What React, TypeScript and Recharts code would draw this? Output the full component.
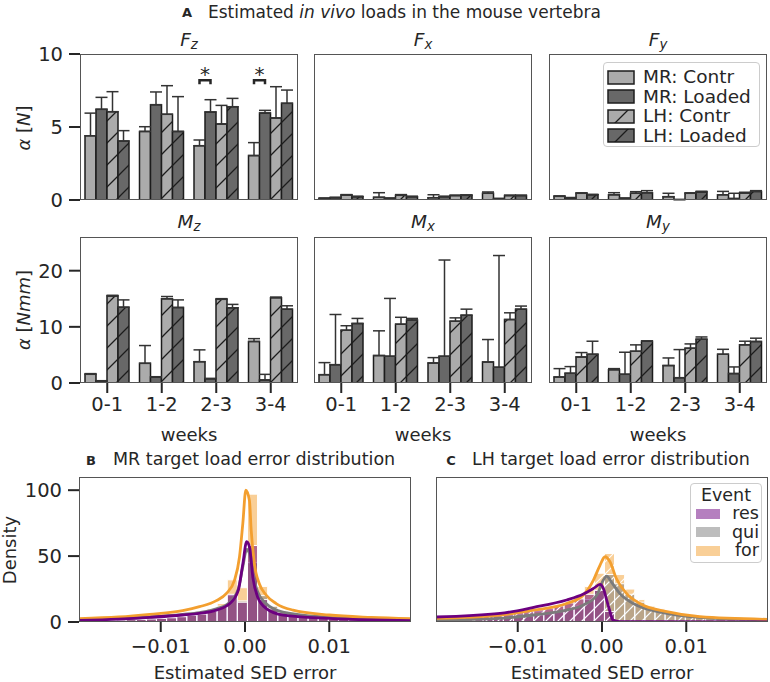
import React from 'react';
import {
  BarChart,
  Bar,
  XAxis,
  YAxis,
  ErrorBar,
  LabelList,
  ComposedChart,
  LineChart,
  Line,
} from 'recharts';

const FONT = '"DejaVu Sans", Verdana, sans-serif';
const INK = '#262626';
const LIGHT = '#ababab';
const DARK = '#686868';
const EDGE = '#1c1c1c';
const C_RES = '#6c0080';
const C_QUI = '#7b7b7b';
const C_FOR = '#f39f2f';

// ---- panel A data: rows = MR Contr, MR Loaded, LH Contr, LH Loaded; cols = weeks
const WEEKS = ['0-1', '1-2', '2-3', '3-4'];

const FZ_MEAN = [
  [4.4, 4.7, 3.72, 3.04],
  [6.21, 6.53, 6.03, 5.96],
  [6.05, 5.87, 5.21, 5.62],
  [4.04, 4.7, 6.39, 6.62],
];
const FZ_ERR = [
  [1.55, 0.32, 0.39, 0.89],
  [0.82, 0.87, 0.84, 0.18],
  [1.37, 1.96, 1.27, 2.14],
  [0.71, 2.38, 0.57, 0.91],
];
const FZ_SIG = [null, null, 8.2, 8.2];

const FX_MEAN = [
  [0.11, 0.18, 0.16, 0.46],
  [0.16, 0.11, 0.23, 0.09],
  [0.34, 0.32, 0.3, 0.3],
  [0.23, 0.23, 0.32, 0.3],
];
const FX_ERR = [
  [0.03, 0.32, 0.2, 0.09],
  [0.03, 0.03, 0.03, 0.02],
  [0.03, 0.05, 0.03, 0.03],
  [0.03, 0.03, 0.03, 0.03],
];

const FY_MEAN = [
  [0.25, 0.36, 0.23, 0.36],
  [0.14, 0.11, 0.02, 0.1],
  [0.46, 0.46, 0.46, 0.48],
  [0.36, 0.5, 0.55, 0.59],
];
const FY_ERR = [
  [0.03, 0.14, 0.23, 0.23],
  [0.03, 0.03, 0.02, 0.36],
  [0.03, 0.11, 0.03, 0.05],
  [0.03, 0.14, 0.05, 0.05],
];

const MZ_MEAN = [
  [1.55, 3.5, 3.8, 7.4],
  [0.36, 1.07, 0.77, 0.54],
  [15.5, 15.0, 14.9, 15.2],
  [13.5, 13.45, 13.4, 13.15],
];
const MZ_ERR = [
  [0.12, 3.17, 2.1, 0.5],
  [0.05, 0.05, 0.05, 1.0],
  [0.12, 0.4, 0.12, 0.1],
  [1.3, 1.35, 0.6, 0.6],
];

const MX_MEAN = [
  [1.49, 4.88, 3.57, 3.75],
  [3.27, 4.76, 4.76, 2.8],
  [9.4, 10.48, 11.0, 11.3],
  [10.6, 11.2, 12.08, 13.15],
];
const MX_ERR = [
  [2.14, 4.41, 0.95, 3.99],
  [8.93, 10.3, 17.14, 19.9],
  [0.8, 1.22, 0.6, 1.2],
  [0.9, 0.3, 1.07, 0.55],
];

const MY_MEAN = [
  [1.07, 2.38, 3.1, 5.12],
  [1.73, 1.55, 0.95, 1.67],
  [4.64, 5.65, 6.19, 6.79],
  [5.12, 7.44, 7.8, 7.38],
];
const MY_ERR = [
  [1.49, 0.18, 1.36, 0.88],
  [1.19, 3.93, 5.0, 1.19],
  [0.78, 1.14, 0.77, 0.65],
  [2.32, 0.06, 0.4, 0.6],
];

const SERIES = [
  { key: 's0', name: 'MR: Contr', fill: LIGHT },
  { key: 's1', name: 'MR: Loaded', fill: DARK },
  { key: 's2', name: 'LH: Contr', fill: 'url(#hatchLight)' },
  { key: 's3', name: 'LH: Loaded', fill: 'url(#hatchDark)' },
];

// ---- panels B/C: histogram bin centres and densities
const BIN_X = [
  -0.0195, -0.0183, -0.0171, -0.0159, -0.0147, -0.0135, -0.0123, -0.0111, -0.0099, -0.0087, -0.0075,
  -0.0063, -0.0051, -0.0039, -0.0027, -0.0015, -0.0003, 0.0009, 0.0021, 0.0033, 0.0045, 0.0057,
  0.0069, 0.0081, 0.0093, 0.0105, 0.0117, 0.0129, 0.0141, 0.0153, 0.0165, 0.0177, 0.0189,
];
const MR_RES = [
  1, 1, 1.2, 1.3, 1.5, 1.8, 2, 2.3, 2.7, 3.2, 4, 5, 6, 8, 11.5, 21, 15, 58, 17, 10, 7, 5.5, 4.5, 3.5,
  3, 2.5, 2, 1.8, 1.5, 1.3, 1.2, 1, 1,
];
const MR_QUI = [
  1, 1.1, 1.2, 1.4, 1.6, 1.9, 2.2, 2.5, 3, 3.5, 4.3, 5.3, 6.5, 8.5, 12, 20, 16, 45, 20, 12, 8, 6, 5, 4,
  3.3, 2.7, 2.2, 1.9, 1.6, 1.4, 1.2, 1.1, 1,
];
const MR_FOR = [
  1.5, 1.6, 1.8, 2, 2.2, 2.5, 2.8, 3.2, 3.7, 4.3, 5, 6, 7.5, 10, 14, 32, 26, 97, 27, 12, 8.5, 6.5, 5, 4,
  3.3, 2.8, 2.4, 2, 1.8, 1.6, 1.4, 1.2, 1.1,
];
const LH_RES = [
  3.8, 4, 4.3, 4.6, 5, 5.4, 6, 6.6, 7.3, 8.2, 9.3, 10.6, 12.3, 14.5, 17.5, 21, 24, 8, 0.5, 0, 0, 0, 0,
  0, 0, 0, 0, 0, 0, 0, 0, 0, 0,
];
const LH_QUI = [
  1, 1.1, 1.3, 1.5, 1.8, 2.1, 2.5, 3, 3.6, 4.3, 5.2, 6.3, 7.8, 9.5, 12, 17, 24, 36, 29, 21, 15, 11.5, 9,
  7.5, 6.2, 5.2, 4.4, 3.7, 3.1, 2.6, 2.2, 1.9, 1.6,
];
const LH_FOR = [
  2.5, 2.7, 3, 3.3, 3.7, 4.1, 4.6, 5.2, 6, 7, 8.2, 9.8, 12, 15, 19, 27, 37, 52, 36, 25, 17, 12.5, 10, 8,
  6.8, 5.8, 5, 4.3, 3.8, 3.3, 2.9, 2.6, 2.3,
];

// KDE curves: [x, density]
const MR_KDE_FOR = [
  [-0.0197, 2.5], [-0.015, 3.8], [-0.0113, 5.8], [-0.0074, 8.6], [-0.0054, 11.6], [-0.0034, 16.2],
  [-0.0022, 21.7], [-0.00124, 31.8], [-0.00065, 49.5], [-0.00026, 74.7], [0.0001, 100], [0.00053, 92],
  [0.00073, 70], [0.00112, 44], [0.0017, 29], [0.0025, 20.5], [0.0037, 14], [0.0057, 9], [0.01, 5.3],
  [0.015, 3.5], [0.0197, 2.5],
];
const MR_KDE_QUI = [
  [-0.0197, 1.5], [-0.015, 2.5], [-0.0113, 3.8], [-0.0074, 5.8], [-0.0054, 7.2], [-0.0034, 10],
  [-0.0018, 15], [-0.0008, 25], [-0.00026, 42], [0.0002, 55], [0.00053, 52], [0.00093, 36], [0.0015, 23],
  [0.0025, 14], [0.0045, 7.5], [0.01, 3.5], [0.015, 2], [0.0197, 1.3],
];
const MR_KDE_RES = [
  [-0.0197, 1.2], [-0.015, 2.2], [-0.0113, 3.5], [-0.0074, 5.3], [-0.0054, 6.6], [-0.0034, 9],
  [-0.0018, 14], [-0.0008, 24], [-0.00026, 44], [0.0002, 61], [0.00053, 57], [0.00093, 34], [0.0015, 19],
  [0.0025, 10.4], [0.0045, 5.3], [0.01, 2.8], [0.015, 1.6], [0.0197, 1.0],
];
const LH_KDE_FOR = [
  [-0.0197, 2.8], [-0.0121, 5.3], [-0.0081, 9], [-0.0042, 14], [-0.0022, 20.5], [-0.001, 32],
  [-0.00024, 43], [0.00036, 49.5], [0.00095, 45.7], [0.0017, 33], [0.0029, 21.7], [0.0045, 14],
  [0.0077, 7.8], [0.0116, 4], [0.0197, 2],
];
const LH_KDE_QUI = [
  [-0.0197, 1.5], [-0.0121, 2.8], [-0.0081, 5.3], [-0.0042, 9], [-0.0022, 12.9], [-0.0006, 20.5],
  [0.00016, 31.8], [0.00055, 34.8], [0.0011, 30.5], [0.0021, 21.7], [0.0037, 14], [0.0077, 6.6],
  [0.0116, 3.5], [0.0197, 1.5],
];
const LH_KDE_RES = [
  [-0.0197, 3.8], [-0.0121, 6.5], [-0.0081, 11.1], [-0.0042, 16.7], [-0.0022, 21.2], [-0.001, 25.5],
  [-0.00024, 28.5], [0.00016, 25.5], [0.00055, 16.7], [0.00095, 7.8], [0.0013, 1.5], [0.0021, 0.3],
  [0.0197, 0],
];

const X_DOMAIN = [-0.0197, 0.0197];
const X_TICKS = [-0.01, 0, 0.01];

const EVENTS = [
  { key: 'res', name: 'res', color: C_RES },
  { key: 'qui', name: 'qui', color: C_QUI },
  { key: 'for', name: 'for', color: C_FOR },
];

// ---- layout
const COL_X = [80, 314, 549];
const ROW_Y = [54, 237];
const PLOT_W = 218;
const PLOT_H = 146;
const DIST_TOP = 477;
const DIST_W = 332;
const DIST_H = 145;

const buildRows = (mean: number[][], err: number[][], sig?: (number | null)[]) =>
  WEEKS.map((week, i) => {
    const row: any = { week, sig: sig ? sig[i] : null };
    SERIES.forEach((s, k) => {
      row[s.key] = mean[k][i];
      row[s.key + 'Err'] = [0, err[k][i]];
    });
    return row;
  });

const buildBins = (res: number[], qui: number[], fr: number[]) =>
  BIN_X.map((x, i) => ({ x, res: res[i], qui: qui[i], for: fr[i] }));

const buildKde = (res: number[][], qui: number[][], fr: number[][]) =>
  [
    ...res.map(([x, y]) => ({ x, res: y })),
    ...qui.map(([x, y]) => ({ x, qui: y })),
    ...fr.map(([x, y]) => ({ x, for: y })),
  ].sort((a, b) => a.x - b.x);

const tickStyle = { fontSize: 19.5, fill: INK, fontFamily: FONT };
const tickLineStyle = { stroke: INK, strokeWidth: 2 };

const Txt = ({ x, y, size = 18, rotate = false, anchor = 'middle', bold = false, children }: any) => (
  <div
    style={{
      position: 'absolute',
      left: x,
      top: y,
      fontSize: size,
      fontWeight: bold ? 'bold' : 'normal',
      color: INK,
      whiteSpace: 'nowrap',
      lineHeight: 1,
      transform:
        (anchor === 'start' ? 'translate(0,-50%)' : 'translate(-50%,-50%)') +
        (rotate ? ' rotate(-90deg)' : ''),
    }}
  >
    {children}
  </div>
);

const MathSym = ({ base, sub }: { base: string; sub: string }) => (
  <span style={{ fontStyle: 'italic' }}>
    {base}
    <span style={{ fontSize: '0.72em', position: 'relative', top: '0.25em' }}>{sub}</span>
  </span>
);

const Frame = ({ left, top, width, height }: any) => (
  <div
    style={{
      position: 'absolute',
      left,
      top,
      width,
      height,
      border: '1px solid #555',
      boxSizing: 'border-box',
      pointerEvents: 'none',
    }}
  />
);

const SigMark = (props: any) => {
  const vb = props.viewBox || props;
  const idx = props.index;
  const level = FZ_SIG[idx];
  const value = FZ_MEAN[0][idx];
  if (level == null || vb == null || !vb.height) return null;
  const base = vb.y + vb.height;
  const yl = base - (level * vb.height) / value;
  const x1 = vb.x + vb.width / 2;
  const x2 = x1 + vb.width;
  return (
    <g>
      <path d={`M${x1},${yl + 4} V${yl} H${x2} V${yl + 4}`} stroke={INK} strokeWidth={2.5} fill="none" />
      <text x={(x1 + x2) / 2} y={yl + 1} textAnchor="middle" fontSize={20} fill={INK} fontFamily={FONT}>
        *
      </text>
    </g>
  );
};

const LoadPanel = ({ rows, col, row, yMax, yTicks, sig = false }: any) => {
  const yw = col === 0 ? 70 : 20;
  const xh = row === 1 ? 40 : 14;
  const mt = 12;
  const mr = 4;
  return (
    <div style={{ position: 'absolute', left: COL_X[col] - yw, top: ROW_Y[row] - mt }}>
      <BarChart
        width={yw + PLOT_W + mr}
        height={mt + PLOT_H + xh}
        data={rows}
        margin={{ top: mt, right: mr, left: 0, bottom: 0 }}
        barGap={0}
        barSize={11}
      >
        <XAxis
          dataKey="week"
          axisLine={false}
          tickLine={tickLineStyle}
          tickSize={10}
          tickMargin={4}
          interval={0}
          height={xh}
          tick={row === 1 ? tickStyle : false}
        />
        <YAxis
          width={yw}
          domain={[0, yMax]}
          ticks={yTicks}
          allowDataOverflow
          axisLine={false}
          tickLine={tickLineStyle}
          tickSize={11}
          tickMargin={6}
          tick={col === 0 ? tickStyle : false}
        />
        {SERIES.map((s, k) => (
          <Bar key={s.key} dataKey={s.key} fill={s.fill} stroke={EDGE} strokeWidth={1.5} isAnimationActive={false}>
            <ErrorBar dataKey={s.key + 'Err'} width={6} stroke="#333" strokeWidth={1.5} isAnimationActive={false} />
            {sig && k === 0 ? <LabelList dataKey={s.key} content={SigMark} /> : null}
          </Bar>
        ))}
      </BarChart>
      <Frame left={yw} top={mt} width={PLOT_W} height={PLOT_H} />
    </div>
  );
};

const fmtErr = (v: number) => v.toFixed(2).replace('-', '\u2212');

const DistPanel = ({ left, yw, bins, kde, hatched }: any) => {
  const mt = 14;
  const mr = 4;
  const xh = 40;
  const W = yw + DIST_W + mr;
  const H = mt + DIST_H + xh;
  const order = [EVENTS[2], EVENTS[1], EVENTS[0]];
  return (
    <div style={{ position: 'absolute', left: left - yw, top: DIST_TOP - mt }}>
      <ComposedChart width={W} height={H} data={bins} margin={{ top: mt, right: mr, left: 0, bottom: 0 }}>
        <XAxis
          xAxisId="for"
          dataKey="x"
          type="number"
          domain={X_DOMAIN}
          allowDataOverflow
          ticks={X_TICKS}
          tickFormatter={fmtErr}
          axisLine={false}
          tickLine={tickLineStyle}
          tickSize={10}
          tickMargin={7}
          height={xh}
          tick={tickStyle}
        />
        <XAxis xAxisId="qui" dataKey="x" type="number" domain={X_DOMAIN} allowDataOverflow hide />
        <XAxis xAxisId="res" dataKey="x" type="number" domain={X_DOMAIN} allowDataOverflow hide />
        <YAxis
          width={yw}
          domain={[0, 110]}
          ticks={[0, 50, 100]}
          allowDataOverflow
          axisLine={false}
          tickLine={tickLineStyle}
          tickSize={11}
          tickMargin={6}
          tick={yw > 40 ? tickStyle : false}
        />
        {order.map((e) => (
          <Bar
            key={e.key}
            xAxisId={e.key}
            dataKey={e.key}
            barSize={10}
            fill={hatched ? `url(#hatch_${e.key})` : e.color}
            fillOpacity={hatched ? 1 : 0.5}
            stroke="#ffffff"
            strokeWidth={1}
            isAnimationActive={false}
          />
        ))}
      </ComposedChart>
      <div style={{ position: 'absolute', left: 0, top: 0 }}>
        <LineChart width={W} height={H} data={kde} margin={{ top: mt, right: mr, left: yw, bottom: xh }}>
          <XAxis dataKey="x" type="number" domain={X_DOMAIN} allowDataOverflow hide />
          <YAxis domain={[0, 110]} allowDataOverflow hide />
          {[EVENTS[1], EVENTS[2], EVENTS[0]].map((e) => (
            <Line
              key={e.key}
              dataKey={e.key}
              type="monotone"
              stroke={e.color}
              strokeWidth={2.8}
              dot={false}
              connectNulls
              isAnimationActive={false}
            />
          ))}
        </LineChart>
      </div>
      <Frame left={yw} top={mt} width={DIST_W} height={DIST_H} />
    </div>
  );
};

const Patterns = () => (
  <svg width={0} height={0} style={{ position: 'absolute' }}>
    <defs>
      {[
        ['hatchLight', LIGHT],
        ['hatchDark', DARK],
      ].map(([id, c]) => (
        <pattern key={id} id={id} patternUnits="userSpaceOnUse" width={22} height={22}>
          <rect width={22} height={22} fill={c} />
          <path d="M0,22 L22,0 M-11,11 L11,-11 M11,33 L33,11" stroke={EDGE} strokeWidth={1.3} />
        </pattern>
      ))}
      {EVENTS.map((e) => (
        <pattern key={e.key} id={`hatch_${e.key}`} patternUnits="userSpaceOnUse" width={12} height={12}>
          <rect width={12} height={12} fill={e.color} fillOpacity={0.5} />
          <path d="M0,12 L12,0 M-6,6 L6,-6 M6,18 L18,6" stroke="#ffffff" strokeWidth={1.1} />
        </pattern>
      ))}
    </defs>
  </svg>
);

const LoadLegend = () => (
  <div
    style={{
      position: 'absolute',
      left: 603,
      top: 62,
      width: 157,
      height: 85,
      boxSizing: 'border-box',
      border: '1px solid #cccccc',
      borderRadius: 4,
      background: 'rgba(255,255,255,0.85)',
    }}
  >
    {SERIES.map((s, i) => (
      <div key={s.key} style={{ position: 'absolute', left: 3, top: 5 + i * 19.5, display: 'flex', alignItems: 'center', height: 18 }}>
        <svg width={28} height={15}>
          <rect x={1} y={1} width={26} height={13} fill={s.fill} stroke={EDGE} strokeWidth={1.5} />
        </svg>
        <span style={{ marginLeft: 8, fontSize: 18.5, color: INK, lineHeight: '18px' }}>{s.name}</span>
      </div>
    ))}
  </div>
);

const EventLegend = () => (
  <div
    style={{
      position: 'absolute',
      left: 690,
      top: 483,
      width: 72,
      height: 80,
      boxSizing: 'border-box',
      border: '1px solid #cccccc',
      borderRadius: 4,
      background: 'rgba(255,255,255,0.85)',
    }}
  >
    <div style={{ position: 'absolute', left: 0, width: 70, top: 2, textAlign: 'center', fontSize: 17.5, color: INK, lineHeight: '18px' }}>
      Event
    </div>
    {EVENTS.map((e, i) => (
      <div
        key={e.key}
        style={{
          position: 'absolute',
          left: 5,
          right: 2,
          top: 21 + i * 18.5,
          height: 17,
          display: 'flex',
          alignItems: 'center',
          justifyContent: 'space-between',
        }}
      >
        <div style={{ width: 24, height: 10, background: e.color, opacity: 0.5 }} />
        <span style={{ fontSize: 17.5, color: INK, lineHeight: '17px' }}>{e.name}</span>
      </div>
    ))}
  </div>
);

export default function App() {
  const centers = COL_X.map((x) => x + PLOT_W / 2);
  return (
    <div
      style={{
        position: 'absolute',
        left: 0,
        top: 0,
        width: 770,
        height: 682,
        background: '#ffffff',
        fontFamily: FONT,
        overflow: 'hidden',
      }}
    >
      <Patterns />
      <Txt x={182} y={12} size={13} bold anchor="start">A</Txt>
      <Txt x={208} y={12} size={17} anchor="start">
        Estimated <i>in vivo</i> loads in the mouse vertebra
      </Txt>

      <LoadPanel rows={buildRows(FZ_MEAN, FZ_ERR, FZ_SIG)} col={0} row={0} yMax={10} yTicks={[0, 5, 10]} sig />
      <LoadPanel rows={buildRows(FX_MEAN, FX_ERR)} col={1} row={0} yMax={10} yTicks={[0, 5, 10]} />
      <LoadPanel rows={buildRows(FY_MEAN, FY_ERR)} col={2} row={0} yMax={10} yTicks={[0, 5, 10]} />
      <LoadPanel rows={buildRows(MZ_MEAN, MZ_ERR)} col={0} row={1} yMax={26} yTicks={[0, 10, 20]} />
      <LoadPanel rows={buildRows(MX_MEAN, MX_ERR)} col={1} row={1} yMax={26} yTicks={[0, 10, 20]} />
      <LoadPanel rows={buildRows(MY_MEAN, MY_ERR)} col={2} row={1} yMax={26} yTicks={[0, 10, 20]} />
      <LoadLegend />

      <Txt x={centers[0]} y={40} size={18.5}><MathSym base="F" sub="z" /></Txt>
      <Txt x={centers[1]} y={40} size={18.5}><MathSym base="F" sub="x" /></Txt>
      <Txt x={centers[2]} y={40} size={18.5}><MathSym base="F" sub="y" /></Txt>
      <Txt x={centers[0]} y={222} size={18.5}><MathSym base="M" sub="z" /></Txt>
      <Txt x={centers[1]} y={222} size={18.5}><MathSym base="M" sub="x" /></Txt>
      <Txt x={centers[2]} y={222} size={18.5}><MathSym base="M" sub="y" /></Txt>
      {centers.map((c) => (
        <Txt key={c} x={c} y={435} size={18}>weeks</Txt>
      ))}
      <Txt x={24} y={128} size={18} rotate>
        <i>α</i> [<i>N</i>]
      </Txt>
      <Txt x={24} y={310} size={18} rotate>
        <i>α</i> [<i>Nmm</i>]
      </Txt>

      <Txt x={91} y={460} size={13} bold>B</Txt>
      <Txt x={113} y={460} size={17.5} anchor="start">MR target load error distribution</Txt>
      <Txt x={451} y={460} size={13} bold>C</Txt>
      <Txt x={472} y={460} size={17.5} anchor="start">LH target load error distribution</Txt>

      <DistPanel
        left={79}
        yw={79}
        bins={buildBins(MR_RES, MR_QUI, MR_FOR)}
        kde={buildKde(MR_KDE_RES, MR_KDE_QUI, MR_KDE_FOR)}
        hatched={false}
      />
      <DistPanel
        left={436}
        yw={20}
        bins={buildBins(LH_RES, LH_QUI, LH_FOR)}
        kde={buildKde(LH_KDE_RES, LH_KDE_QUI, LH_KDE_FOR)}
        hatched
      />
      <EventLegend />
      <Txt x={10} y={550} size={18} rotate>Density</Txt>
      <Txt x={79 + DIST_W / 2} y={673} size={18}>Estimated SED error</Txt>
      <Txt x={436 + DIST_W / 2} y={673} size={18}>Estimated SED error</Txt>
    </div>
  );
}
